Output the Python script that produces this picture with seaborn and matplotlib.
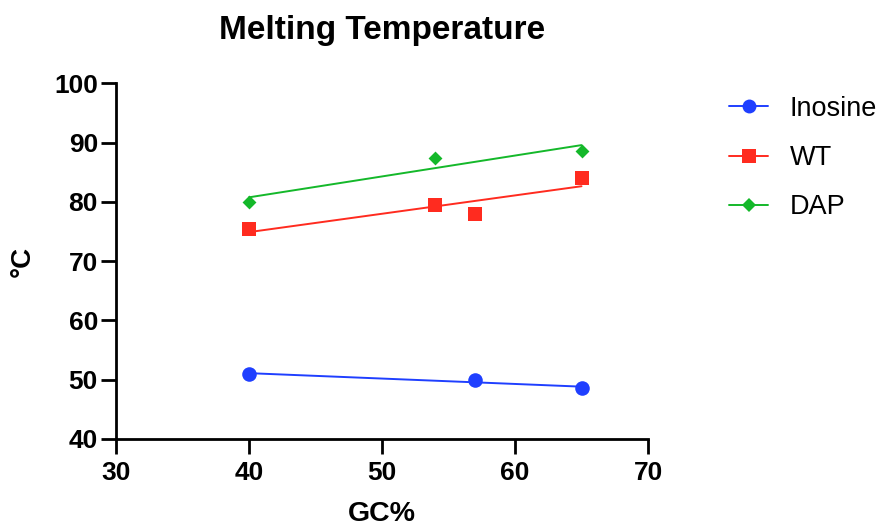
"""Melting temperature vs GC content, Prism-style scatter with linear fits."""

import matplotlib

matplotlib.use("Agg")
import matplotlib.pyplot as plt
import seaborn as sns
from matplotlib.lines import Line2D

# values
gc_inosine = [40, 57, 65]
tm_inosine = [51.0, 49.9, 48.6]

gc_wt = [40, 54, 57, 65]
tm_wt = [75.5, 79.5, 78.0, 84.0]

gc_dap = [40, 54, 65]
tm_dap = [80.0, 87.5, 88.6]

series_names = ["Inosine", "WT", "DAP"]
x_ticks = [30, 40, 50, 60, 70]
y_ticks = [40, 50, 60, 70, 80, 90, 100]


def main() -> None:
    sns.set_theme(style="ticks")
    plt.rcParams["font.family"] = ["Liberation Sans", "DejaVu Sans"]
    for key in ["text.color", "axes.labelcolor", "xtick.color", "ytick.color"]:
        plt.rcParams[key] = "black"

    colors = ["#1f3fff", "#ff2b1f", "#14b82a"]
    markers = ["o", "s", "D"]
    sizes = [110, 105, 50]
    series = [(gc_inosine, tm_inosine), (gc_wt, tm_wt), (gc_dap, tm_dap)]

    fig = plt.figure(figsize=(8.82, 5.28), dpi=100)
    ax = fig.add_axes([0.1315, 0.1686, 0.6032, 0.6733])

    for (gc, tm), color, marker, size in zip(series, colors, markers, sizes):
        sns.regplot(
            x=gc,
            y=tm,
            ax=ax,
            ci=None,
            truncate=True,
            color=color,
            marker=marker,
            scatter_kws={"s": size, "linewidths": 0, "alpha": 1, "zorder": 3},
            line_kws={"lw": 1.4, "zorder": 2},
        )

    ax.set_xlim(30, 70)
    ax.set_ylim(40, 100)
    ax.set_xticks(x_ticks)
    ax.set_yticks(y_ticks)
    sns.despine(ax=ax)
    for side in ["left", "bottom"]:
        ax.spines[side].set_linewidth(2)
        ax.spines[side].set_color("black")
    ax.tick_params(length=11, width=2, color="black", labelcolor="black", labelsize=19)
    ax.tick_params(axis="x", pad=5)
    ax.tick_params(axis="y", pad=2)
    for lbl in ax.get_xticklabels() + ax.get_yticklabels():
        lbl.set_fontweight("bold")

    ax.set_xlabel("GC%", fontsize=20.5, fontweight="bold", color="black")
    ax.set_ylabel("°C", fontsize=20, fontweight="bold", color="black")
    ax.xaxis.set_label_coords(0.5, -0.174)
    ax.yaxis.set_label_coords(-0.15, 0.5)
    ax.set_title("Melting Temperature", fontsize=24, fontweight="bold", pad=32, color="black")

    handles = [
        Line2D([], [], color=c, marker=m, lw=1.4, markersize=ms, markeredgewidth=0)
        for c, m, ms in zip(colors, markers, [10, 10, 7])
    ]
    fig.legend(
        handles,
        series_names,
        loc="center left",
        bbox_to_anchor=(729 / 882, 1 - 158 / 528),
        frameon=False,
        borderpad=0,
        borderaxespad=0,
        handlelength=1.45,
        handletextpad=0.8,
        labelspacing=0.86,
        fontsize=19.5,
        labelcolor="black",
    )

    fig.savefig("out.png", dpi=100)
    plt.close(fig)


if __name__ == "__main__":
    main()
